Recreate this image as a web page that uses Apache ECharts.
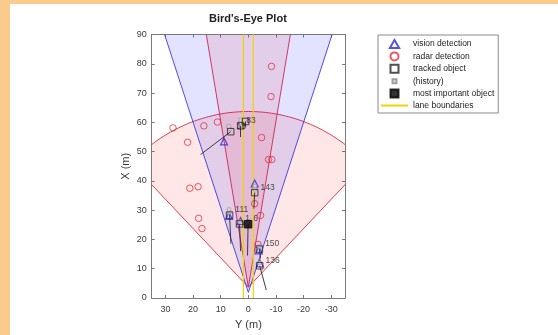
<!DOCTYPE html>
<html>
<head>
<meta charset="utf-8">
<script src="https://cdn.jsdelivr.net/npm/echarts@6/dist/echarts.min.js"></script>
<style>
  html, body { margin: 0; padding: 0; width: 558px; height: 335px; background: #fbcb8e; overflow: hidden; }
  #frame { position: absolute; left: 10px; top: 4px; width: 548px; height: 331px; background: #fff; }
  #chart { width: 548px; height: 331px; }
</style>
</head>
<body>
<div id="frame"><div id="chart"></div></div>
<script>
// Axis ticks (metres). Horizontal axis is lateral Y, vertical axis is longitudinal X.
const yTicks = [-30, -20, -10, 0, 10, 20, 30];
const xTicks = [0, 10, 20, 30, 40, 50, 60, 70, 80, 90];

// Sensor coverage: mounting position along X, half field of view (deg), max range (m)
const sensorKind  = ['radar', 'radar', 'vision'];
const sensorX0    = [3.7, 3.7, 1.9];
const sensorHalf  = [45, 10, 19];
const sensorRange = [60, 174, 150];

// Lane boundary lateral offsets
const laneOffsets = [1.8, -1.8];
const laneLength  = [0, 90];

// Radar detections (lateral Y, longitudinal X)
const radarY = [27.3, 22.0, 16.1, 11.2, -4.8, -7.3, -8.5, 21.2, 18.2, -2.3, -4.4, 18.0, 16.8, -3.5, -8.4, -8.2];
const radarX = [58.1, 53.2, 58.8, 60.1, 54.8, 47.3, 47.3, 37.5, 38.0, 32.2, 28.2, 27.2, 23.7, 18.3, 79.1, 68.8];

// Vision detections
const visionY = [8.8, -2.3, 7.0, 2.8, -3.8, -4.2];
const visionX = [53.5, 39.1, 28.0, 26.3, 16.3, 11.8];

// Confirmed tracks with their velocity-line end points
const trackIds  = ['18', '83', '', '143', '111', '1', '150', '136'];
const trackY    = [6.4, 2.8, 1.0, -2.3, 6.8, 3.2, -4.0, -4.1];
const trackX    = [56.8, 58.8, 60.3, 36.0, 28.3, 25.3, 16.7, 11.0];
const trackEndY = [17.3, 2.8, 1.0, -2.0, 6.3, 2.8, -4.4, -6.5];
const trackEndX = [49.0, 55.0, 58.5, 30.5, 18.5, 16.0, 13.5, 2.7];

// Most important object
const mioId = ['6'];
const mioY  = [0.1];
const mioX  = [25.2];
const mioEndY = [0.3];
const mioEndX = [14.5];

// Track history
const histY = [6.8, 7.1, 2.9, 2.8, -2.3, -2.4, 6.9, 7.0, 3.2, 0.1, -4.0, -4.0];
const histX = [57.8, 58.6, 59.8, 60.8, 37.2, 38.2, 29.3, 30.2, 26.2, 26.2, 17.6, 12.0];

// Legend entries and their icons
const legendNames = ['vision detection', 'radar detection', 'tracked object', '(history)', 'most important object', 'lane boundaries'];
const legendIcons = [
  'path://M5,0L10,8.66L0,8.66Z',
  'path://M10,5A5,5,0,1,1,0,5A5,5,0,1,1,10,5Z',
  'path://M0,0H10V10H0Z',
  'path://M-5,-5M0,0H10V10H0ZM15,15',
  'path://M0,0H10V10H0Z',
  null
];

const zip = (a, b) => a.map((v, i) => [v, b[i]]);

function sectorPoints(i) {
  const pts = [[0, sensorX0[i]]];
  const n = 90;
  for (let k = 0; k <= n; k++) {
    const a = (-sensorHalf[i] + 2 * sensorHalf[i] * k / n) * Math.PI / 180;
    pts.push([sensorRange[i] * Math.sin(a), sensorX0[i] + sensorRange[i] * Math.cos(a)]);
  }
  return pts;
}

const coverageStyle = {
  radar:  { fill: 'rgba(255,40,40,0.11)', stroke: 'rgba(228,40,56,0.9)' },
  vision: { fill: 'rgba(40,40,255,0.13)', stroke: 'rgba(60,60,225,0.9)' }
};

const font = 'Liberation Sans, Arial, Helvetica, sans-serif';
const axisColor = '#7a7a7a';
const labelColor = '#3a3a3a';
const laneColor = '#f0d400';

const velocityLines = trackY.map((y, i) => ({ coords: [[y, trackX[i]], [trackEndY[i], trackEndX[i]]] }))
  .concat(mioY.map((y, i) => ({ coords: [[y, mioX[i]], [mioEndY[i], mioEndX[i]]] })));

const chart = echarts.init(document.getElementById('chart'));

const baseX = {
  type: 'value', min: -35, max: 35, inverse: true,
  splitLine: { show: false },
  axisLine: { show: true, onZero: false, lineStyle: { color: axisColor, width: 1 } },
  axisTick: { show: true, inside: true, length: 3, lineStyle: { color: axisColor }, customValues: yTicks },
};
const baseY = {
  type: 'value', min: 0, max: 90, interval: 10,
  splitLine: { show: false },
  axisLine: { show: true, onZero: false, lineStyle: { color: axisColor, width: 1 } },
  axisTick: { show: true, inside: true, length: 3, lineStyle: { color: axisColor } },
};

chart.setOption({
  animation: false,
  backgroundColor: '#ffffff',
  textStyle: { fontFamily: font },
  title: {
    text: "Bird's-Eye Plot",
    left: 194, top: 4,
    textStyle: { fontSize: 11, fontWeight: 'bold', color: '#222', fontFamily: font }
  },
  legend: {
    orient: 'vertical',
    left: 368, top: 31,
    backgroundColor: '#fff',
    borderColor: '#8a8a8a', borderWidth: 1, borderRadius: 0,
    padding: [4, 4, 3, 2],
    itemWidth: 27, itemHeight: 8, itemGap: 2.4,
    textStyle: { fontSize: 8.5, lineHeight: 9, color: '#222', fontFamily: font },
    data: legendNames.map((n, i) => {
      const item = { name: n };
      if (legendIcons[i]) item.icon = legendIcons[i];
      if (n === 'lane boundaries') item.itemStyle = { opacity: 0 };
      return item;
    })
  },
  grid: { left: 141.7, top: 30.5, right: 213, bottom: 36 },
  xAxis: [
    Object.assign({}, baseX, {
      position: 'bottom',
      name: 'Y (m)', nameLocation: 'middle', nameGap: 21,
      nameTextStyle: { fontSize: 11, color: labelColor, fontFamily: font },
      axisLabel: { show: true, fontSize: 9, color: labelColor, margin: 7, customValues: yTicks, fontFamily: font }
    }),
    Object.assign({}, baseX, { position: 'top', axisLabel: { show: false } })
  ],
  yAxis: [
    Object.assign({}, baseY, {
      position: 'left',
      name: 'X (m)', nameLocation: 'middle', nameGap: 20,
      nameTextStyle: { fontSize: 11, color: labelColor, fontFamily: font },
      axisLabel: { show: true, fontSize: 9, color: labelColor, margin: 5, fontFamily: font }
    }),
    Object.assign({}, baseY, { position: 'right', axisLabel: { show: false } })
  ],
  series: [
    {
      name: 'coverage',
      type: 'custom',
      clip: true,
      silent: true,
      data: sensorKind.map((k, i) => [i]),
      renderItem: function (params, api) {
        const i = params.dataIndex;
        const st = coverageStyle[sensorKind[i]];
        const cs = params.coordSys;
        return {
          type: 'polygon',
          shape: { points: sectorPoints(i).map(p => api.coord(p)) },
          clipPath: { type: 'rect', shape: { x: cs.x, y: cs.y, width: cs.width, height: cs.height } },
          style: { fill: st.fill, stroke: st.stroke, lineWidth: 1 }
        };
      },
      z: 1
    },
    {
      name: 'lane boundaries', type: 'line', symbol: 'none',
      data: laneLength.map(x => [laneOffsets[0], x]),
      lineStyle: { color: laneColor, width: 1.2 }, itemStyle: { color: laneColor }, z: 2
    },
    {
      name: 'lane boundaries', type: 'line', symbol: 'none',
      data: laneLength.map(x => [laneOffsets[1], x]),
      lineStyle: { color: laneColor, width: 1.2 }, itemStyle: { color: laneColor }, z: 2
    },
    {
      name: 'radar detection', type: 'scatter', symbol: 'circle', symbolSize: 6.5,
      data: zip(radarY, radarX),
      itemStyle: { color: 'transparent', borderColor: '#e2303e', borderWidth: 1 }, z: 3
    },
    {
      name: 'vision detection', type: 'scatter', symbol: 'triangle', symbolSize: 7,
      data: zip(visionY, visionX),
      itemStyle: { color: 'transparent', borderColor: '#2a2ad8', borderWidth: 1.2 }, z: 4
    },
    {
      name: 'velocity', type: 'lines', coordinateSystem: 'cartesian2d',
      data: velocityLines, silent: true,
      lineStyle: { color: '#2a2a2a', width: 1, opacity: 0.9 }, z: 4
    },
    {
      name: '(history)', type: 'scatter', symbol: 'rect', symbolSize: 3.5,
      data: zip(histY, histX),
      itemStyle: { color: '#d8d8d8', borderColor: '#8a8a8a', borderWidth: 0.6 }, z: 5
    },
    {
      name: 'tracked object', type: 'scatter', symbol: 'rect', symbolSize: 6.5,
      data: trackY.map((y, i) => ({ value: [y, trackX[i]], name: trackIds[i] })),
      itemStyle: { color: 'transparent', borderColor: '#222', borderWidth: 1 },
      label: {
        show: true, position: 'right', distance: 2, offset: [0, -5],
        formatter: p => p.name, fontSize: 8.5, color: '#222', fontFamily: font
      },
      z: 6
    },
    {
      name: 'most important object', type: 'scatter', symbol: 'rect', symbolSize: 7.5,
      data: mioY.map((y, i) => ({ value: [y, mioX[i]], name: mioId[i] })),
      itemStyle: { color: '#000', borderColor: '#000', borderWidth: 1 },
      label: {
        show: true, position: 'right', distance: 1, offset: [0, -6],
        formatter: p => p.name, fontSize: 8.5, color: '#222', fontFamily: font
      },
      z: 7
    }
  ]
});
</script>
</body>
</html>
